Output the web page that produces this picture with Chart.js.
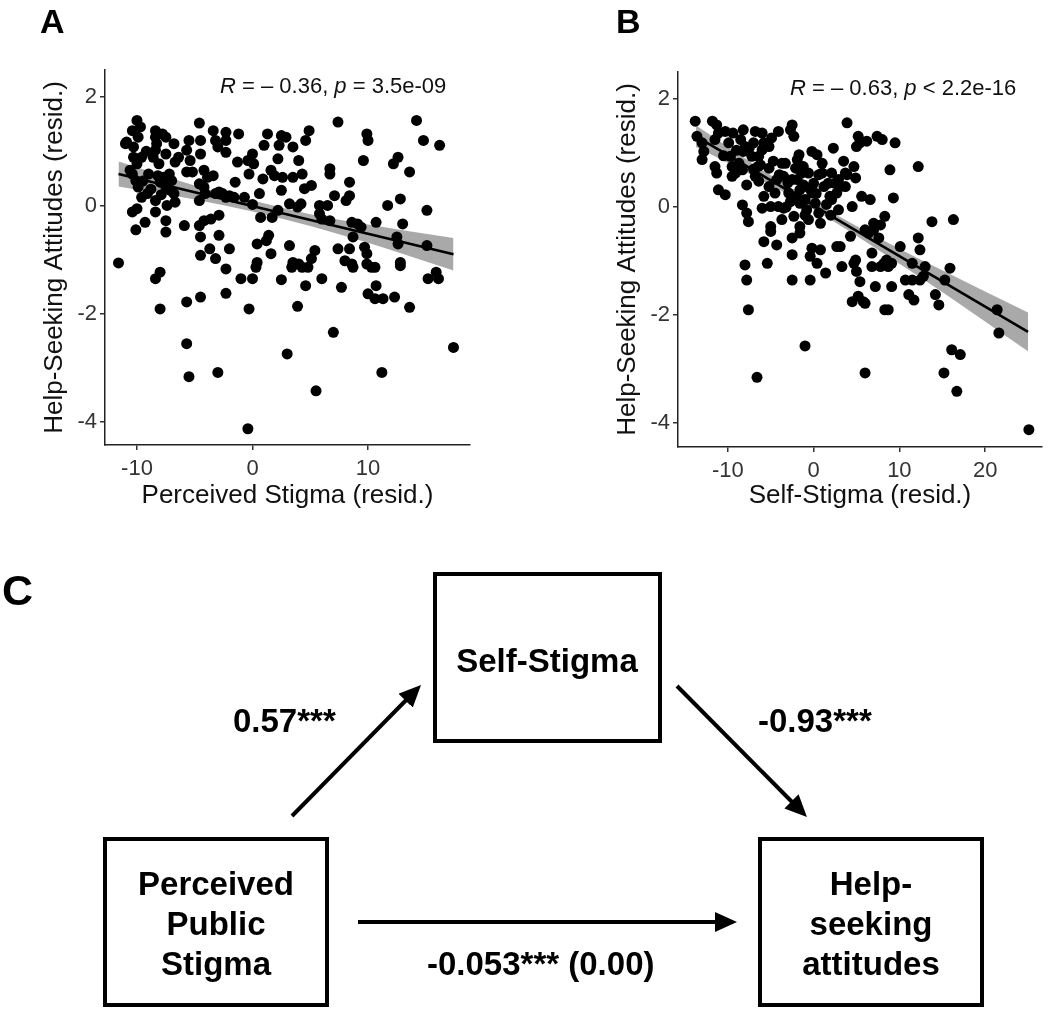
<!DOCTYPE html>
<html>
<head>
<meta charset="utf-8">
<script src="https://cdn.jsdelivr.net/npm/chart.js@4.4.1/dist/chart.umd.min.js"></script>
<style>
  body { margin: 0; background: #fff; width: 1050px; height: 1010px; overflow: hidden; position: relative; }
  canvas { position: absolute; top: 0; }
  #chartA { left: 0; }
  #chartB { left: 525px; }
  svg { position: absolute; left: 0; top: 0; pointer-events: none; }
  text { font-family: "Liberation Sans", Arial, Helvetica, sans-serif; }
</style>
</head>
<body>
<canvas id="chartA" width="525" height="540"></canvas>
<canvas id="chartB" width="525" height="540"></canvas>

<svg width="1050" height="1010" viewBox="0 0 1050 1010">
  <defs>
    <marker id="head" markerWidth="22" markerHeight="20" refX="10" refY="10" orient="auto" markerUnits="userSpaceOnUse">
      <path d="M0,0 L22,10 L0,20 Z" fill="#000"/>
    </marker>
  </defs>

  <!-- panel letters and correlation labels -->
  <text x="40" y="33" font-size="34" font-weight="bold">A</text>
  <text x="616" y="33" font-size="34" font-weight="bold">B</text>
  <text x="2" y="605" font-size="43" font-weight="bold">C</text>
  <text x="220" y="93" font-size="22" fill="#111"><tspan font-style="italic">R</tspan> = – 0.36, <tspan font-style="italic">p</tspan> = 3.5e-09</text>
  <text x="790" y="95" font-size="22" fill="#111"><tspan font-style="italic">R</tspan> = – 0.63, <tspan font-style="italic">p</tspan> &lt; 2.2e-16</text>

  <!-- mediation diagram -->
  <g fill="none" stroke="#000" stroke-width="4">
    <rect x="435" y="574" width="225" height="167"/>
    <rect x="105" y="839" width="222" height="166"/>
    <rect x="760" y="839" width="222" height="166"/>
    <line x1="292" y1="816" x2="412.6" y2="693.5" marker-end="url(#head)"/>
    <line x1="677" y1="686" x2="798.5" y2="808.5" marker-end="url(#head)"/>
    <line x1="358" y1="922" x2="725" y2="922" marker-end="url(#head)"/>
  </g>
  <g font-size="33" font-weight="bold" fill="#000" text-anchor="middle">
    <text x="547" y="672">Self-Stigma</text>
    <text x="216" y="895">Perceived</text>
    <text x="216" y="935">Public</text>
    <text x="216" y="975">Stigma</text>
    <text x="871" y="895">Help-</text>
    <text x="871" y="935">seeking</text>
    <text x="871" y="975">attitudes</text>
  </g>
  <g font-size="33" font-weight="bold" fill="#000">
    <text x="233" y="732">0.57***</text>
    <text x="758" y="732">-0.93***</text>
    <text x="427" y="975">-0.053*** (0.00)</text>
  </g>
</svg>

<script>
// Panel A: perceived stigma (resid.) vs help-seeking attitudes (resid.)
const perceivedA = [
  -11.6, -11.0, -10.9, -10.4, -10.3, -10.0, -9.7, -9.9, -10.3, -10.0,
  -10.4, -10.1, -9.9, -10.4, -10.0, -10.1, -9.3, -9.6, -9.6, -9.1,
  -9.0, -8.4, -8.4, -8.3, -8.4, -8.6, -8.1, -7.8, -7.5, -7.5,
  -7.7, -8.0, -7.2, -7.0, -7.5, -7.1, -6.8, -8.4, -7.4, -8.4,
  -7.5, -7.5, -8.0, -8.4, -8.0, -6.8, -6.7, -6.4, -6.7, -9.5,
  -8.8, -8.2, -7.9, -9.2, -10.6,
  -5.9, -5.7, -5.5, -5.4, -5.7, -5.2, -4.6, -4.5, -4.5, -4.6,
  -4.6, -4.2, -3.9, -4.2, -4.1, -4.6, -4.2, -4.5, -4.5, -4.5,
  -5.7, -5.7, -5.5, -3.7, -3.4, -3.4, -3.6, -3.2, -3.0, -3.2,
  -2.9, -2.9, -3.2, -3.0, -2.3, -2.3, -2.3, -2.6, -2.3, -2.0,
  -2.9, -2.0, -2.3, -2.3, -1.3, -1.2, -1.5, -1.6, -0.7, -1.0,
  -0.4, -0.3, 0.0, 0.1, 0.0, 0.0, -0.3, -0.4, 0.3, 0.4,
  0.6, 0.7, 0.4, 0.9, 1.0, 1.3, 1.2, 1.4, 1.6, 1.6,
  1.9, 1.7, 2.2, 2.3, 2.5, 2.5, 2.6, 2.2, 2.9, 3.5,
  3.5, 3.2, 3.2, 3.0, 2.5, 4.0, 3.9, 4.2, 4.5, 4.3,
  4.6, 4.9, 3.5, 3.4, 4.0, 4.3, 4.8, 5.1, 4.6, 3.9,
  5.1, 5.4, 5.5, 5.8, 5.8, 6.0, 6.5, 6.7, 6.0, 6.7,
  6.7, 7.0,
  7.1, 7.4, 7.4, 7.7, 8.1, 8.4, 8.4, 8.6, 8.0, 8.4,
  8.6, 8.7, 8.7, 9.1, 9.4, 9.6, 9.7, 9.9, 10.0, 9.9,
  9.9, 10.0, 10.3, 10.6, 10.6, 10.7, 10.7, 11.2, 11.3, 11.7,
  12.2, 12.3, 12.5, 12.6, 12.6, 12.8, 12.8, 12.8, 13.0, 13.6,
  13.6, 14.2, 14.8, 15.1, 15.1, 15.2, 15.9, 16.1, 16.2, 17.4
];
const helpA = [
  -1.06, 1.14, 1.17, 1.38, 1.08, 1.57, 1.45, 1.26, 0.89, 0.77,
  0.58, 0.46, 0.34, -0.12, -0.06, -0.45, -0.31, 0.89, 0.15, 0.22,
  0.58, 1.38, 1.26, 1.14, 1.02, 0.89, 0.77, 1.32, 1.26, 0.95,
  0.52, 0.43, 0.58, 0.46, 0.34, 0.28, 0.22, 0.09, 0.00, -0.12,
  -0.28, -0.49, -1.23, -1.35, -1.91, 1.14, 0.80, 0.89, 0.06, 0.45,
  0.30, 0.55, 0.20, 1.00, 0.65,
  -0.37, 1.02, 1.20, 0.83, 0.62, 0.62, 1.52, 1.20, 0.95, 0.40,
  0.09, 0.65, 0.52, 0.34, 0.22, -0.37, -0.28, -0.58, -0.92, -1.69,
  -1.78, -2.55, -3.16, -0.80, 1.38, 0.55, -0.25, 1.20, 1.08, 0.22,
  0.25, -0.18, -0.98, -3.08, 1.35, 1.20, 0.98, 0.22, 0.15, 0.18,
  -0.55, -0.80, -1.17, -1.62, 0.80, 1.32, 0.43, 0.15, 0.15, -1.35,
  0.83, 0.58, 0.95, 0.77, 0.02, -1.35, -1.91, -4.12, -1.14, -1.05,
  0.22, -0.22, -0.71, 0.49, 1.11, 1.32, -0.65, -0.55, -0.89, 0.65,
  0.55, -0.22, 0.86, 1.11, 1.29, 0.28, 0.52, -0.09, 1.26, 1.08,
  0.52, 0.03, -0.74, -2.74, -1.37, 0.83, -0.03, 0.03, 0.31, 0.58,
  1.20, 1.38, -1.05, -1.14, -1.08, -1.14, -1.14, -0.98, -1.48, -1.86,
  0.37, -0.83, -3.42, 0.00, -0.15, -0.25, 0.00, -0.28, -1.35, 0.68,
  0.58, -2.34,
  0.18, 1.54, -0.80, -1.51, 0.09, 0.43, 0.18, -0.31, -1.02, -0.80,
  -1.08, -0.58, -1.14, -0.34, -0.40, 0.83, -0.77, 1.32, 1.20, -0.89,
  -1.08, -1.63, -1.14, -1.14, -1.72, -0.31, -1.48, -3.08, -1.72, 0.00,
  0.77, -1.69, -0.58, 0.89, -0.71, 0.12, -1.05, -1.11, -0.34, 0.62,
  -1.88, 1.57, 1.20, -0.09, -0.74, -1.35, -1.23, -1.35, 1.11, -2.62
];
const fitXA = [-11.6, 17.4];
const fitYA = [0.58, -0.90];
const bandXA = [-11.6, -5, 0, 5, 10, 17.4];
const bandHiA = [0.81, 0.37, 0.09, -0.16, -0.35, -0.60];
const bandLoA = [0.35, 0.11, -0.11, -0.38, -0.69, -1.20];

// Panel B: self-stigma (resid.) vs help-seeking attitudes (resid.)
const selfB = [
  -13.8, -13.6, -13.0, -12.8, -13.0, -11.8, -11.3, -11.1, -11.5, -11.5,
  -11.3, -11.1, -10.3, -10.3, -9.9, -9.7, -9.4, -9.5, -9.5, -9.1,
  -8.7, -8.3, -8.5, -8.2, -8.0, -8.2, -7.8, -8.3, -7.8, -7.6,
  -8.0, -7.8, -7.6, -6.8, -7.0, -7.2, -6.8, -6.4, -6.6, -6.0,
  -6.0, -6.2, -5.8, -6.4, -6.0, -5.8, -5.8, -5.4, -5.2, -5.2,
  -5.2, -5.0, -5.0, -5.0, -4.9, -4.7, -4.5, -4.1, -4.3, -4.1,
  -4.3, -3.7, -3.7, -3.3, -3.5, -3.5, -2.9, -2.7, -2.5, -2.3,
  -2.5, -2.7, -2.5, -2.5, -2.5, -2.3, -2.1, -1.9, -1.9, -1.7,
  -1.6, -1.6, -1.6, -1.6, -1.4, -1.2, -1.0, -1.0, -0.8, -0.6,
  -0.6, -0.4, -0.4, -0.2, -0.2, -0.2, 0.0, 0.2, 0.4, 0.4,
  0.6, 0.6, 0.8, 1.0, 1.0, 0.8, 1.2, 1.4, 1.7, 1.9,
  2.1, 2.1, 2.3, 2.5, 2.7, 2.7, 2.9, 2.9, 3.1, 3.1,
  3.3, 3.5, 3.7, 3.7, 3.9, 3.9, 4.3, 4.5, 4.7, 4.9,
  5.0, 5.2, 5.4, 4.5, 4.7, 4.9, 5.0, 5.2, 5.4, 5.6,
  5.8, 6.0, 6.0, 6.0, 6.2, 6.4, 6.6, 6.8, 6.8, 7.0,
  7.0, 7.2, 7.4, 7.6, 7.8, 8.0, 7.8, 8.2, 8.3, 8.3,
  8.7, 8.5, 8.7, 8.9, 9.1, 9.1, 9.3, 9.5, 10.1, 10.7,
  11.1, 11.5, 11.7, 11.5, 12.2, 12.2, 12.4, 12.4, 13.0, 12.8,
  13.8, 14.2, 14.6, 15.2, 15.3, 15.9, 16.3, 16.1, 16.7, 17.1,
  21.4, 21.6, 25.1,
  -9.0, -7.5, -6.5, -4.0, -3.0, -2.0, -1.2, -0.5, 0.3, 1.5,
  2.0, -1.0, -3.2, -7.0, -10.5
];
const helpB = [
  1.59, 1.31, 1.19, 1.03, 0.88, 1.59, 1.52, 1.37, 1.25, 0.75,
  0.63, 0.32, 0.23, 1.40, 1.19, 0.94, 1.37, 0.75, 0.57, 0.63,
  0.81, 0.69, 1.25, 1.43, 1.12, 1.03, 0.41, 0.04, -0.11, -0.27,
  -1.07, -1.35, -1.90, 1.40, 1.19, 0.94, 0.57, 0.94, -3.15, 1.37,
  1.06, 0.78, 1.19, 0.48, -0.02, 0.20, -0.64, -1.04, 1.12, 0.72,
  0.38, 0.01, -0.36, -0.45, 1.28, 0.85, 0.26, 1.40, 0.51, 0.01,
  -0.70, 0.81, -0.23, 0.81, 0.57, -0.02, 0.26, 1.43, 1.52, 1.31,
  0.51, 0.10, -0.57, -0.88, -1.35, -0.17, 0.72, 0.88, 0.51, 0.97,
  0.32, 0.07, -0.36, -0.48, 0.63, 0.41, -2.57, 0.14, -0.05, 0.63,
  -0.23, -0.91, -1.35, 1.03, 0.26, -0.76, 0.44, 0.07, 0.97, -1.04,
  0.60, -0.11, -0.79, 0.81, 0.63, -0.30, 0.38, -1.22, 0.44, 0.20,
  0.63, 0.14, 1.09, 0.44, 0.26, -0.73, -0.05, 0.51, 0.38, -0.73,
  -1.10, 0.85, 0.63, 0.38, 1.56, 0.60, -0.54, 0.01, 0.75, 0.54,
  1.12, 1.31, 1.19, -1.75, -1.04, -0.98, -1.19, -1.65, -1.38, 0.20,
  -1.75, -1.78, -3.07, -0.42, 1.22, -0.48, 0.14, -0.85, -1.10, -0.30,
  -0.42, -1.47, 1.31, -0.57, -1.10, 1.25, -0.33, -1.04, -0.17, -1.90,
  -1.10, -0.98, -1.90, 0.69, -1.04, -1.47, 0.17, 1.19, -0.73, -1.35,
  -1.62, -1.35, -1.72, -1.04, 0.75, -0.57, -0.79, -1.35, -1.10, -1.28,
  -0.27, -1.62, -1.81, -3.07, -1.35, -1.13, -0.23, -2.64, -3.41, -2.73,
  -1.90, -2.33, -4.12,
  1.05, 1.10, 0.75, 0.60, 0.45, 0.20, 0.75, 0.35, 0.25, 0.05,
  -0.15, -0.15, 0.00, 0.70, 0.95
];
const fitXB = [-13.7, 25.0];
const fitYB = [1.31, -2.31];
const bandXB = [-13.7, -5, 0, 5, 10, 15, 25];
const bandHiB = [1.51, 0.59, 0.10, -0.35, -0.77, -1.17, -1.95];
const bandLoB = [1.11, 0.41, -0.04, -0.53, -1.05, -1.57, -2.67];

const yTicks = [-4, -2, 0, 2];
const xTicksA = [-10, 0, 10];
const xTicksB = [-10, 0, 10, 20];

const FONT = '"Liberation Sans", Arial, Helvetica, sans-serif';
const zip = (xs, ys) => xs.map((x, i) => ({ x: x, y: ys[i] }));

function makePanel(id, o) {
  const ctx = document.getElementById(id).getContext("2d");
  return new Chart(ctx, {
    type: "scatter",
    data: {
      datasets: [
        // confidence band: upper edge filled down to the lower edge
        { type: "line", data: zip(o.bandX, o.bandHi), borderWidth: 0, pointRadius: 0,
          fill: "+1", backgroundColor: "#a9a9a9", cubicInterpolationMode: "monotone", order: 3 },
        { type: "line", data: zip(o.bandX, o.bandLo), borderWidth: 0, pointRadius: 0,
          fill: false, cubicInterpolationMode: "monotone", order: 3 },
        { data: zip(o.xs, o.ys), pointRadius: 5.5, pointBackgroundColor: "#000",
          pointBorderWidth: 0, order: 2 },
        { type: "line", data: zip(o.fitX, o.fitY), borderColor: "#000", borderWidth: 2.6,
          pointRadius: 0, fill: false, order: 1 }
      ]
    },
    options: {
      responsive: false,
      animation: false,
      layout: { padding: o.padding },
      plugins: { legend: { display: false }, tooltip: { enabled: false } },
      scales: {
        x: {
          type: "linear", min: o.xMin, max: o.xMax,
          afterBuildTicks: s => { s.ticks = o.xTicks.map(v => ({ value: v })); },
          afterFit: s => { s.height = o.xHeight; },
          grid: { drawOnChartArea: false, drawTicks: true, tickLength: 5, color: "#333", lineWidth: 1.5 },
          border: { display: true, color: "#222", width: 1.5 },
          ticks: { font: { family: FONT, size: 22 }, color: "#333", padding: 6, maxRotation: 0, autoSkip: false },
          title: { display: true, text: o.xTitle, color: "#111", font: { family: FONT, size: 26 },
                   padding: { top: 0, bottom: 29 } }
        },
        y: {
          type: "linear", min: o.yMin, max: 2.5,
          afterBuildTicks: s => { s.ticks = yTicks.map(v => ({ value: v })); },
          afterFit: s => { s.width = 105; },
          grid: { drawOnChartArea: false, drawTicks: true, tickLength: 5, color: "#333", lineWidth: 1.5 },
          border: { display: true, color: "#222", width: 1.5 },
          ticks: { font: { family: FONT, size: 22 }, color: "#333", padding: 3, autoSkip: false },
          title: { display: true, text: "Help-Seeking Attitudes (resid.)", color: "#111",
                   font: { family: FONT, size: 26 }, padding: { top: 39, bottom: 0 } }
        }
      }
    }
  });
}

makePanel("chartA", {
  xs: perceivedA, ys: helpA, fitX: fitXA, fitY: fitYA,
  bandX: bandXA, bandHi: bandHiA, bandLo: bandLoA,
  xMin: -12.77, xMax: 18.83, yMin: -4.42, xTicks: xTicksA,
  xTitle: "Perceived Stigma (resid.)",
  padding: { top: 70, right: 55, left: 0, bottom: 0 }, xHeight: 95
});

makePanel("chartB", {
  xs: selfB, ys: helpB, fitX: fitXB, fitY: fitYB,
  bandX: bandXB, bandHi: bandHiB, bandLo: bandLoB,
  xMin: -15.81, xMax: 26.63, yMin: -4.44, xTicks: xTicksB,
  xTitle: "Self-Stigma (resid.)",
  padding: { top: 72, right: 8, left: 48, bottom: 0 }, xHeight: 93
});
</script>
</body>
</html>
